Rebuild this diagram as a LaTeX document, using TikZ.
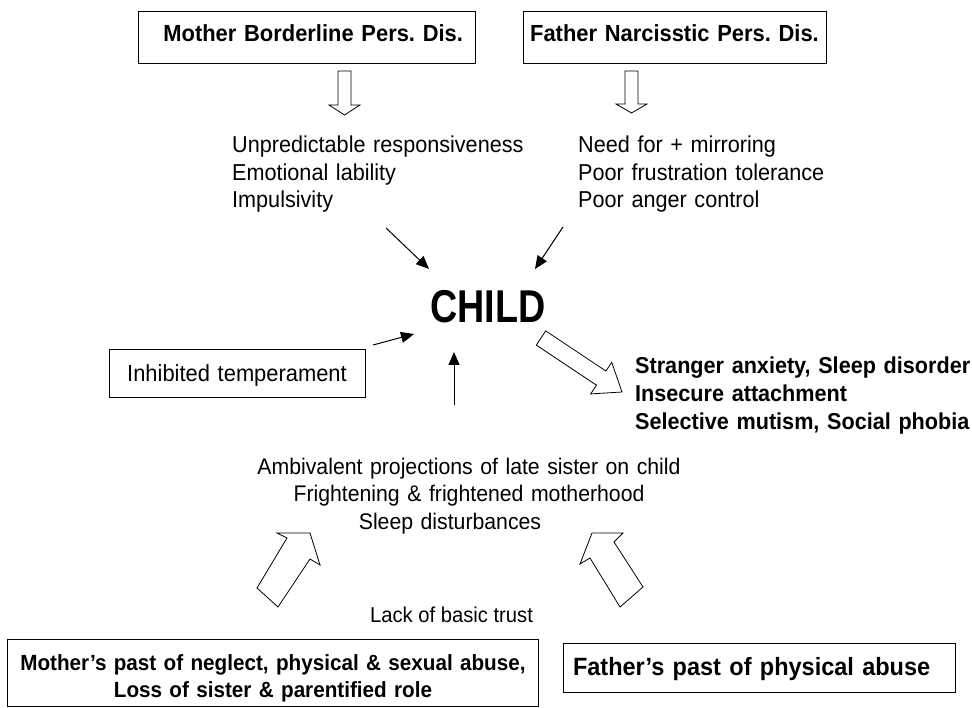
\documentclass[tikz,border=0pt]{standalone}
\usepackage{fontspec}
\setmainfont[FakeStretch=0.94]{Liberation Sans}
\newfontfamily\childfont[FakeStretch=0.82]{Liberation Sans}
\usetikzlibrary{arrows.meta}
\begin{document}
\frenchspacing
\begin{tikzpicture}[x=1pt,y=-1pt,
 txt/.style={inner sep=0pt, font=\frenchspacing\fontsize{23}{27.5}\selectfont},
 bold/.style={inner sep=0pt, font=\frenchspacing\fontsize{23}{27.5}\selectfont\bfseries},
 box/.style={draw, line width=0.8pt, inner ysep=0pt, font=\frenchspacing\fontsize{23.3}{27.5}\selectfont\bfseries},
 plainbox/.style={draw, line width=0.8pt, inner ysep=0pt, font=\frenchspacing\fontsize{23.3}{27.5}\selectfont},
 hollow/.style={draw, line width=0.8pt, fill=white, line join=miter},
 thinarrow/.style={line width=1pt, -{Triangle[length=13pt,width=11pt]}}
]
\path[use as bounding box, fill=white] (0,0) rectangle (972,708);

% top boxes
\node[box, text width=313pt, align=right, inner xsep=12pt, text height=31pt, text depth=21pt, anchor=base] (mbpd) at (306.5,42) {Mother Borderline Pers. Dis.};
\node[box, text width=303pt, align=center, inner xsep=0pt, text height=31pt, text depth=21pt, anchor=base] (fnpd) at (674.5,42) {Father Narcisstic Pers. Dis.};

% hollow down arrows
\draw[hollow] (338,71) -- (351,71) -- (351,105) -- (360,105) -- (344.5,115) -- (329,105) -- (338,105) -- cycle;
\draw[hollow] (625,71) -- (638,71) -- (638,104) -- (647,104) -- (631.5,113) -- (616,104) -- (625,104) -- cycle;

% trait texts
\node[txt, text width=300pt, align=left, anchor=base west] (mtr) at (232,153) {Unpredictable responsiveness\\Emotional lability\\Impulsivity};
\node[txt, text width=300pt, align=left, anchor=base west] (ftr) at (578,153) {Need for + mirroring\\Poor frustration tolerance\\Poor anger control};

% child
\node[inner sep=0pt, font=\childfont\fontsize{46}{50}\bfseries\selectfont, anchor=base] (child) at (488,323) {CHILD};

% inhibited temperament
\node[plainbox, text width=256pt, align=center, inner xsep=0pt, text height=33pt, text depth=15pt, anchor=base] (inh) at (237,382) {Inhibited temperament};

% outcomes
\node[bold, text width=335pt, align=left, anchor=base west] (out) at (635,374) {Stranger anxiety, Sleep disorder\\Insecure attachment\\Selective mutism, Social phobia};

% ambivalent
\node[txt, font=\frenchspacing\fontsize{22.6}{27.5}\selectfont, text width=460pt, align=center, anchor=base] (amb) at (469,474) {Ambivalent projections of late sister on child\\Frightening \& frightened motherhood\\Sleep disturbances\hspace*{38pt}\mbox{}};

\node[txt, font=\frenchspacing\fontsize{21.5}{27.5}\selectfont, anchor=base] (lack) at (451.5,622) {Lack of basic trust};

% bottom boxes
\node[box, font=\frenchspacing\fontsize{22}{27.5}\selectfont\bfseries, text width=531pt, align=center, inner xsep=0pt, text height=31pt, text depth=36pt, anchor=base] (mpast) at (273,670) {Mother’s past of neglect, physical \& sexual abuse,\\Loss of sister \& parentified role};
\node[box, font=\frenchspacing\fontsize{25}{27.5}\selectfont\bfseries, text width=372pt, align=left, inner xsep=10pt, text height=32pt, text depth=17pt, anchor=base] (fpast) at (759,675) {Father’s past of physical abuse};

% thin arrows
\coordinate (mtrE) at (386,228); \coordinate (childNW) at (429,269);
\coordinate (ftrE) at (563,227); \coordinate (childNE) at (535,269);
\coordinate (inhE) at (373,345); \coordinate (childW) at (414,334);
\coordinate (ambN) at (454,405); \coordinate (childS) at (454,352);
\draw[thinarrow] (mtrE) -- (childNW);
\draw[thinarrow] (ftrE) -- (childNE);
\draw[thinarrow] (inhE) -- (childW);
\draw[thinarrow] (ambN) -- (childS);

% hollow diagonal arrow to outcomes
\draw[hollow] (545.7,330.9) -- (605.9,371.0) -- (611.7,362.3) -- (622,392) -- (590.7,393.9) -- (596.5,385.2) -- (536.3,345.1) -- cycle;

% lower hollow arrows
\draw[hollow] (310,533) -- (320,565) -- (310,559) -- (278,607) -- (257,588) -- (287,538) -- (277,533) -- cycle;
\draw[hollow] (592,533) -- (623,533) -- (614,542) -- (643,587) -- (620,607) -- (590,558) -- (580,564) -- cycle;
\end{tikzpicture}
\end{document}
